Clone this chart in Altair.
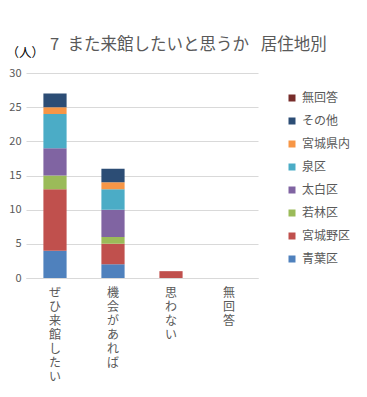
import altair as alt
import pandas as pd

categories = ["ぜひ来館したい", "機会があれば", "思わない", "無回答"]
series = ["青葉区", "宮城野区", "若林区", "太白区", "泉区", "宮城県内", "その他", "無回答"]
colors = ["#4F81BD", "#C0504D", "#9BBB59", "#8064A2", "#4BACC6", "#F79646", "#2C4D75", "#772C2A"]

aoba = [4, 2, 0, 0]
miyagino = [9, 3, 1, 0]
wakabayashi = [2, 1, 0, 0]
taihaku = [4, 4, 0, 0]
izumi = [5, 3, 0, 0]
kennai = [1, 1, 0, 0]
sonota = [2, 2, 0, 0]
mukaitou = [0, 0, 0, 0]

y_ticks = [0, 5, 10, 15, 20, 25, 30]

values = [aoba, miyagino, wakabayashi, taihaku, izumi, kennai, sonota, mukaitou]
rows = []
for si, (s, vals) in enumerate(zip(series, values)):
    for c, v in zip(categories, vals):
        rows.append({"category": c, "series": s, "value": v, "order": si})
df = pd.DataFrame(rows)

FONT = "Noto Sans CJK JP"
GREY = "#595959"

chart = alt.Chart(df).mark_bar().encode(
    x=alt.X(
        "category:N",
        sort=categories,
        scale=alt.Scale(paddingInner=0.6, paddingOuter=0.3),
        axis=alt.Axis(
            title=None,
            labelAngle=0,
            labelExpr="split(datum.label, '')",
            labelBaseline="top",
            labelLineHeight=14,
            labelFontSize=12,
            labelFont=FONT,
            labelColor=GREY,
            labelPadding=9,
            labelOverlap=False,
            ticks=False,
            domainColor="#D9D9D9",
        ),
    ),
    y=alt.Y(
        "value:Q",
        stack="zero",
        scale=alt.Scale(domain=[0, 30]),
        axis=alt.Axis(
            values=y_ticks,
            title="（人）",
            titleAngle=0,
            titleAlign="left",
            titleBaseline="middle",
            titleX=-20,
            titleY=-21,
            titleFont=FONT,
            titleFontSize=12.5,
            titleFontWeight="normal",
            titleColor="#000000",
            labelFont=FONT,
            labelFontSize=11,
            labelColor=GREY,
            labelPadding=5,
            ticks=False,
            domain=False,
            gridColor="#D9D9D9",
        ),
    ),
    color=alt.Color(
        "series:N",
        scale=alt.Scale(domain=list(reversed(series)), range=list(reversed(colors))),
        legend=alt.Legend(
            title=None,
            orient="none",
            legendX=260,
            legendY=19,
            symbolType="square",
            symbolSize=49,
            symbolStrokeWidth=0,
            labelFont=FONT,
            labelFontSize=12,
            labelColor=GREY,
            rowPadding=11,
            labelOffset=4,
        ),
    ),
    order=alt.Order("order:Q", sort="ascending"),
).properties(
    width=232,
    height=205,
    title=alt.TitleParams(
        "7\u2002また来館したいと思うか\u2002 居住地別",
        anchor="start",
        frame="group",
        dx=24,
        dy=29,
        offset=22,
        fontSize=16.5,
        fontWeight="normal",
        font=FONT,
        color=GREY,
    ),
    autosize=alt.AutoSizeParams(type="none"),
    padding={"left": 18, "top": 65, "right": 101, "bottom": 111},
).configure_view(stroke=None)

chart.save("out.html", embed_options={"renderer": "svg", "actions": False})
